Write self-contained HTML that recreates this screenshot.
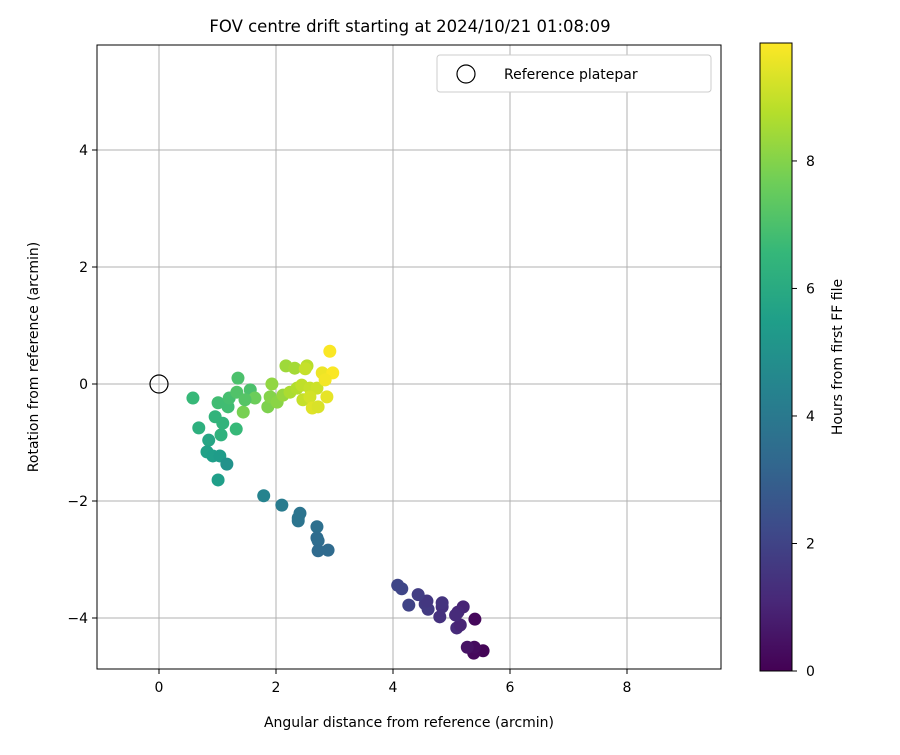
<!DOCTYPE html>
<html><head><meta charset="utf-8"><style>body{margin:0;background:#fff}svg{font-family:"DejaVu Sans","Liberation Sans",sans-serif}</style></head>
<body>
<svg id="chart" width="900" height="750" viewBox="0 0 900 750">
<defs><linearGradient id="vir" x1="0" y1="1" x2="0" y2="0"></linearGradient></defs>
<rect width="900" height="750" fill="#fff"/>
<text x="410" y="32" font-size="16.5" text-anchor="middle">FOV centre drift starting at 2024/10/21 01:08:09</text>
<g id="grid"></g>
<g id="pts"></g>
<rect x="97" y="45" width="624" height="624" fill="none" stroke="#000" stroke-width="1"/>
<g id="ticks"></g>
<text x="409" y="727" font-size="14" text-anchor="middle">Angular distance from reference (arcmin)</text>
<text transform="translate(38,357) rotate(-90)" font-size="14" text-anchor="middle">Rotation from reference (arcmin)</text>
<g>
<rect x="437" y="55" width="274" height="37" rx="3" fill="#fff" stroke="#ccc"/>
<circle cx="466" cy="74" r="9" fill="none" stroke="#000" stroke-width="1.2"/>
<text x="504" y="79" font-size="14">Reference platepar</text>
</g>
<rect x="760" y="43" width="32" height="628" fill="url(#vir)" stroke="#000" stroke-width="1"/>
<g id="cbticks"></g>
<text transform="translate(842,357) rotate(-90)" font-size="14" text-anchor="middle">Hours from first FF file</text>
</svg>
<script>
const xTicks=[0,2,4,6,8];
const yTicks=[-4,-2,0,2,4];
const cbTicks=[0,2,4,6,8];
const refPoint=[0,0];
const xs=[5.54,5.38,5.39,5.27,5.40,5.20,5.11,5.09,5.15,5.07,4.84,4.80,4.84,4.55,4.60,4.58,4.43,4.27,4.08,4.15,
1.79,2.10,2.41,2.38,2.38,2.70,2.70,2.72,2.72,2.89,
0.58,0.68,0.85,0.82,0.92,1.04,1.16,1.01,1.06,1.32,0.96,1.09,1.01,1.18,1.20,1.35,1.33,1.56,1.44,1.64,1.47,1.86,1.93,1.90,2.02,2.17,2.32,2.12,2.24,2.36,2.53,2.50,2.44,2.58,2.70,2.46,2.58,2.62,2.72,2.87,2.79,2.97,2.92,2.84];
const ys=[-4.56,-4.60,-4.50,-4.50,-4.02,-3.81,-3.90,-4.17,-4.12,-3.95,-3.81,-3.98,-3.74,-3.76,-3.85,-3.71,-3.60,-3.78,-3.44,-3.50,
-1.91,-2.07,-2.21,-2.29,-2.34,-2.44,-2.63,-2.68,-2.85,-2.84,
-0.24,-0.75,-0.96,-1.16,-1.23,-1.23,-1.37,-1.64,-0.87,-0.77,-0.56,-0.67,-0.32,-0.39,-0.24,0.10,-0.14,-0.10,-0.48,-0.24,-0.27,-0.39,0.00,-0.22,-0.31,0.31,0.27,-0.19,-0.14,-0.07,0.31,0.26,-0.02,-0.07,-0.07,-0.27,-0.22,-0.41,-0.39,-0.22,0.19,0.19,0.56,0.07];
const hours=[0.1,0.2,0.3,0.5,0.2,1.0,1.1,1.2,1.0,1.2,1.4,1.4,1.5,1.7,1.7,1.6,1.8,2.0,2.1,2.1,
4.4,4.1,3.8,3.8,3.8,3.6,3.5,3.5,3.4,3.4,
6.6,6.2,5.8,5.6,5.5,5.4,5.0,5.5,6.3,6.6,6.4,6.4,6.8,6.8,6.9,7.0,7.1,7.0,7.8,7.6,7.2,7.9,8.2,8.0,8.1,8.4,8.5,8.3,8.6,8.7,8.8,9.0,8.9,9.0,9.1,9.0,9.2,9.4,9.3,9.5,9.6,9.8,9.8,9.7];
const hMax=9.85;
const X=v=>159+v*58.5, Y=v=>384-v*58.5, C=v=>671-v*(628/hMax);
const vir=[[68,1,84],[72,40,120],[62,73,137],[49,104,142],[38,130,142],[31,158,137],[53,183,121],[110,206,88],[181,222,43],[253,231,37]];
function col(h){let t=Math.max(0,Math.min(1,h/hMax))*(vir.length-1);let i=Math.min(vir.length-2,Math.floor(t)),f=t-i;
const c=vir[i].map((a,k)=>Math.round(a+(vir[i+1][k]-a)*f));return `rgb(${c})`;}
const NS="http://www.w3.org/2000/svg";
function mk(tag,at,parent){const e=document.createElementNS(NS,tag);for(const k in at)e.setAttribute(k,at[k]);document.getElementById(parent).appendChild(e);return e;}
const g=document.getElementById('vir');
vir.forEach((c,i)=>{const s=document.createElementNS(NS,'stop');s.setAttribute('offset',i/(vir.length-1));s.setAttribute('stop-color',`rgb(${c})`);g.appendChild(s);});
xTicks.forEach(v=>{
 const l=mk('line',{x1:X(v),x2:X(v),y1:45,y2:669,stroke:'#b0b0b0','stroke-width':1},'grid');
 
 const t=mk('line',{x1:X(v),x2:X(v),y1:669,y2:674,stroke:'#000'},'ticks');
 
 const tx=mk('text',{x:X(v),y:692,'font-size':14,'text-anchor':'middle'},'ticks');tx.textContent=v;
 
});
yTicks.forEach(v=>{
 const l=mk('line',{x1:97,x2:721,y1:Y(v),y2:Y(v),stroke:'#b0b0b0','stroke-width':1},'grid');
 
 const t=mk('line',{x1:92,x2:97,y1:Y(v),y2:Y(v),stroke:'#000'},'ticks');
 
 const tx=mk('text',{x:88,y:Y(v)+5,'font-size':14,'text-anchor':'end'},'ticks');tx.textContent=v<0?'\u2212'+(-v):v;
 
});
cbTicks.forEach(v=>{
 const t=mk('line',{x1:792,x2:797,y1:C(v),y2:C(v),stroke:'#000'},'cbticks');
 
 const tx=mk('text',{x:806,y:C(v)+5,'font-size':14},'cbticks');tx.textContent=v;
 
});
xs.forEach((x,i)=>{
 const p=mk('circle',{cx:X(x),cy:Y(ys[i]),r:6.5,fill:col(hours[i])},'pts');
 
});
const r=mk('circle',{cx:X(refPoint[0]),cy:Y(refPoint[1]),r:9,fill:'none',stroke:'#000','stroke-width':1.2},'pts');

</script>
</body></html>
